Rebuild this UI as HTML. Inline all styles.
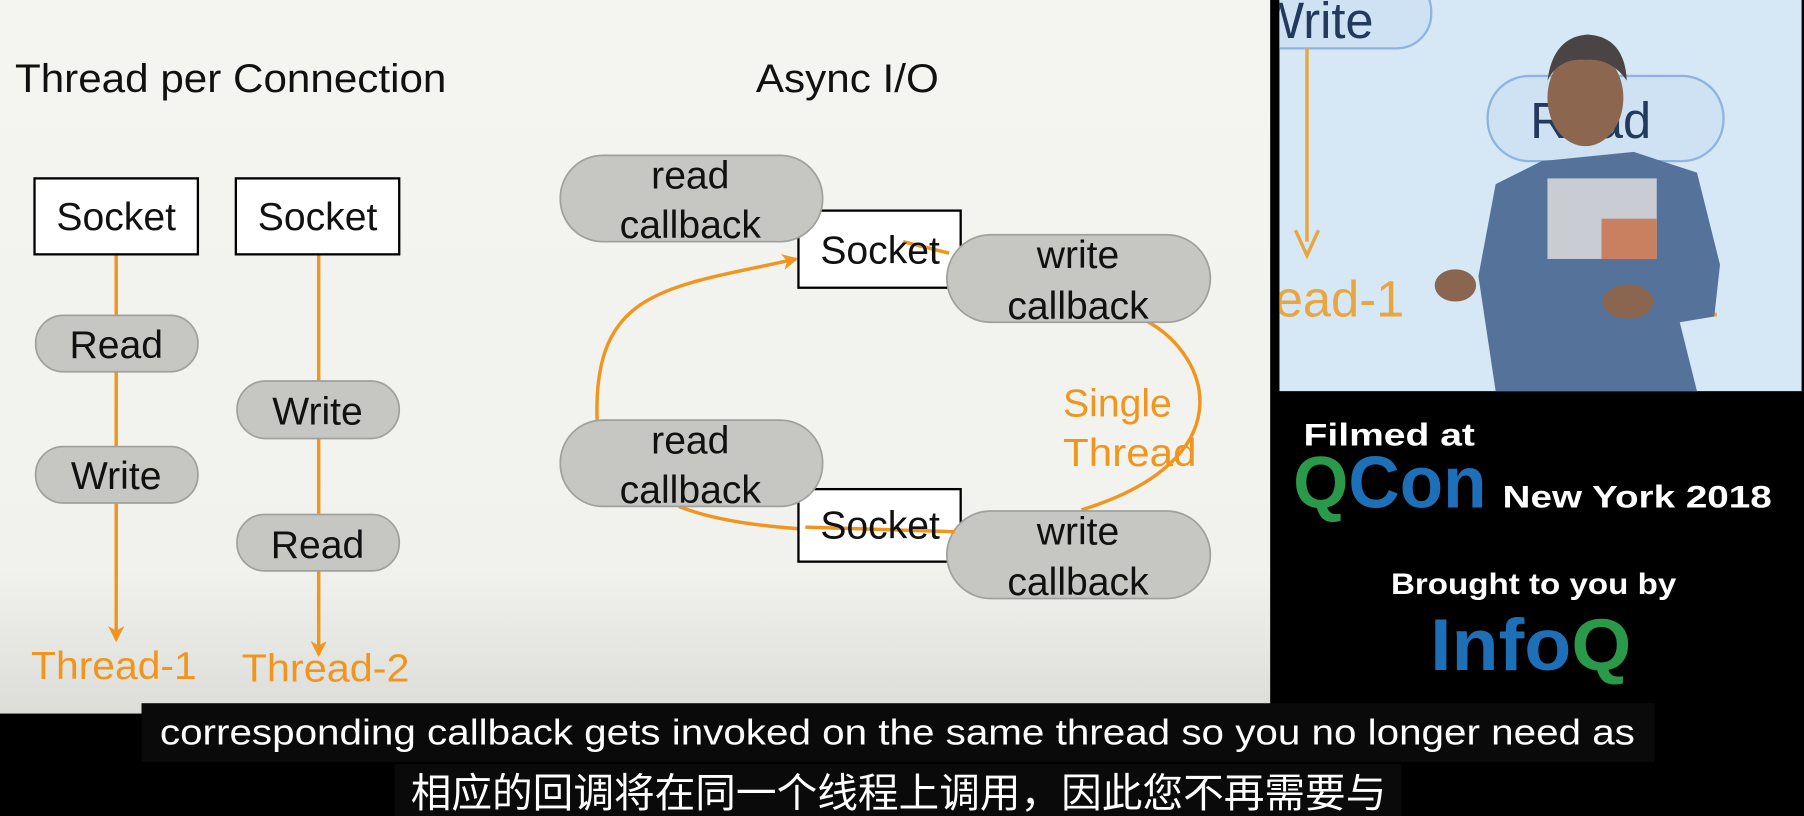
<!DOCTYPE html>
<html><head><meta charset="utf-8"><style>
html,body{margin:0;padding:0;background:#000;width:1804px;height:816px;overflow:hidden}
svg{display:block}
text{font-family:"Liberation Sans","Noto Sans CJK SC",sans-serif}
</style></head><body>
<svg width="1804" height="816" viewBox="0 0 1568 709" preserveAspectRatio="none">
<defs>
<linearGradient id="bg" x1="0" y1="0" x2="0" y2="1">
<stop offset="0" stop-color="#f4f4f0"/><stop offset="0.8" stop-color="#f1f1ed"/><stop offset="1" stop-color="#dcdcd8"/>
</linearGradient>
<marker id="ah" markerWidth="16" markerHeight="16" refX="12" refY="7" orient="auto" markerUnits="userSpaceOnUse">
<path d="M0,0 L14,7 L0,14 L4,7 z" fill="#f0961e"/></marker>
<clipPath id="vc"><rect x="1112" y="0" width="454" height="340"/></clipPath>
</defs>
<rect x="0" y="0" width="1568" height="709" fill="#000"/>
<rect x="0" y="0" width="1104" height="620" fill="url(#bg)"/>
<!-- video -->
<g clip-path="url(#vc)">
<rect x="1112" y="0" width="454" height="340" fill="#d6e8f6"/>
<rect x="1080" y="-20" width="164" height="62" rx="30" fill="#cfe2f3" stroke="#8fb5de" stroke-width="2"/>
<text x="1092" y="33" font-size="44" fill="#233a5c">Write</text>
<rect x="1293" y="66" width="205" height="74" rx="36" fill="#cfe2f3" stroke="#8fb5de" stroke-width="2"/>
<text x="1330" y="120" font-size="44" fill="#233a5c">Read</text>
<line x1="1136" y1="42" x2="1136" y2="210" stroke="#e8a640" stroke-width="3"/>
<path d="M1126,200 L1136,222 L1146,200" fill="none" stroke="#e8a640" stroke-width="3"/>
<text x="1108" y="275" font-size="44" fill="#e8a640">ead-1</text>
<text x="1470" y="275" font-size="44" fill="#e8a640">2</text>
<path d="M1300,340 L1285,240 L1300,160 L1340,140 L1420,132 L1475,150 L1495,230 L1490,275 L1460,280 L1475,340 Z" fill="#55739a"/>
<rect x="1345" y="155" width="95" height="70" fill="#c9ccd2"/>
<rect x="1392" y="190" width="48" height="35" fill="#c98060"/>
<ellipse cx="1378" cy="85" rx="33" ry="42" fill="#8d6650"/>
<path d="M1345,70 Q1350,32 1380,30 Q1412,32 1414,70 Q1400,50 1378,52 Q1355,50 1345,70 Z" fill="#4a4444"/>
<ellipse cx="1265" cy="248" rx="18" ry="14" fill="#8a6550"/>
<ellipse cx="1415" cy="262" rx="22" ry="15" fill="#8a6550"/>
</g>
<!-- branding -->
<text x="1133" y="387" font-size="27" font-weight="bold" fill="#fff" textLength="149" lengthAdjust="spacingAndGlyphs">Filmed at</text>
<text x="1124" y="441" font-size="64" font-weight="bold" fill="#1d6fb8" textLength="168" lengthAdjust="spacingAndGlyphs"><tspan fill="#2a9a4a">Q</tspan>Con</text>
<text x="1306" y="441" font-size="27" font-weight="bold" fill="#fff" textLength="234" lengthAdjust="spacingAndGlyphs">New York 2018</text>
<text x="1209" y="516" font-size="26" font-weight="bold" fill="#fff" textLength="248" lengthAdjust="spacingAndGlyphs">Brought to you by</text>
<text x="1243" y="582" font-size="64" font-weight="bold" fill="#1d6fb8" textLength="175" lengthAdjust="spacingAndGlyphs">Info<tspan fill="#2a9a4a">Q</tspan></text>
<!-- left slide -->
<text x="13" y="80" font-size="35" fill="#111" textLength="375" lengthAdjust="spacingAndGlyphs">Thread per Connection</text>
<text x="657" y="80" font-size="35" fill="#111" textLength="159" lengthAdjust="spacingAndGlyphs">Async I/O</text>
<g stroke="#f0961e" stroke-width="3" fill="none">
<line x1="101" y1="221" x2="101" y2="556" marker-end="url(#ah)"/>
<line x1="277" y1="221" x2="277" y2="569" marker-end="url(#ah)"/>
<path d="M519,366 C515,250 580,250 692,225" marker-end="url(#ah)"/>
<path d="M995,278 C1055,310 1080,400 940,443"/>
<path d="M590,440 C640,460 720,463 830,462"/>
</g>
<g stroke="#000" stroke-width="2" fill="#fff">
<rect x="30" y="155" width="142" height="66"/>
<rect x="205" y="155" width="142" height="66"/>
<rect x="694" y="183" width="141" height="67"/>
<rect x="694" y="425" width="141" height="63"/>
</g>
<g fill="#c6c7c2" stroke="#a0a09c" stroke-width="1.5">
<rect x="31" y="274" width="141" height="49" rx="24"/>
<rect x="31" y="388" width="141" height="49" rx="24"/>
<rect x="206" y="331" width="141" height="50" rx="25"/>
<rect x="206" y="447" width="141" height="49" rx="24"/>
<rect x="487" y="135" width="228" height="75" rx="37"/>
<rect x="823" y="204" width="229" height="76" rx="38"/>
<rect x="487" y="365" width="228" height="75" rx="37"/>
<rect x="823" y="444" width="229" height="76" rx="38"/>
</g>
<line x1="785" y1="210" x2="825" y2="220" stroke="#f0961e" stroke-width="3"/>
<path d="M700,458 L830,462" stroke="#f0961e" stroke-width="3" fill="none"/>
<g font-size="34" fill="#111" text-anchor="middle">
<text x="101" y="200">Socket</text>
<text x="276" y="200">Socket</text>
<text x="101" y="311">Read</text>
<text x="101" y="425">Write</text>
<text x="276" y="369">Write</text>
<text x="276" y="485">Read</text>
<text x="765" y="229">Socket</text>
<text x="765" y="468">Socket</text>
<text x="600" y="164">read</text><text x="600" y="207">callback</text>
<text x="937" y="233">write</text><text x="937" y="277">callback</text>
<text x="600" y="394">read</text><text x="600" y="437">callback</text>
<text x="937" y="473">write</text><text x="937" y="517">callback</text>
</g>
<g font-size="34" fill="#f0961e">
<text x="27" y="590" textLength="144" lengthAdjust="spacingAndGlyphs">Thread-1</text>
<text x="210" y="592" textLength="146" lengthAdjust="spacingAndGlyphs">Thread-2</text>
<text x="924" y="362">Single</text>
<text x="924" y="405" textLength="116" lengthAdjust="spacingAndGlyphs">Thread</text>
</g>
<!-- subtitles -->
<rect x="123" y="611" width="1315" height="51" fill="#0a0a0a"/>
<text x="780" y="647" font-size="31" fill="#fff" text-anchor="middle" textLength="1282" lengthAdjust="spacingAndGlyphs">corresponding callback gets invoked on the same thread so you no longer need as</text>
<rect x="343" y="664" width="875" height="45" fill="#0a0a0a"/>
<text x="781" y="701" font-size="35" fill="#fff" text-anchor="middle" textLength="848" lengthAdjust="spacingAndGlyphs">相应的回调将在同一个线程上调用，因此您不再需要与</text>
</svg>
</body></html>
